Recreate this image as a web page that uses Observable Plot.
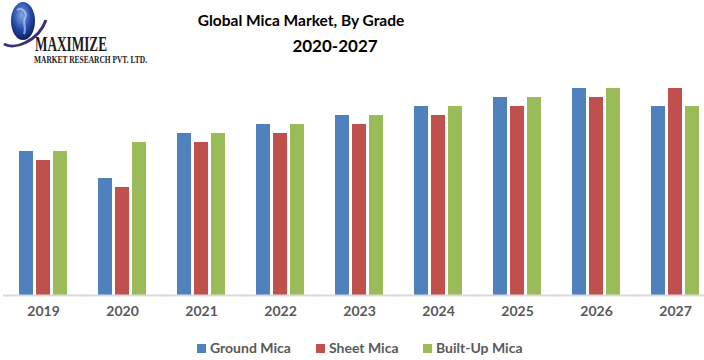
<!DOCTYPE html>
<html><head><meta charset="utf-8">
<script src="https://cdn.jsdelivr.net/npm/d3@7"></script>
<script src="https://cdn.jsdelivr.net/npm/@observablehq/plot@0.6"></script>
<style>
body{margin:0;background:#fff;}
#wrap{position:relative;width:704px;height:360px;overflow:hidden;font-family:Lato,"Open Sans",sans-serif;}
#chart{position:absolute;left:0;top:0;}
.t{position:absolute;width:300px;text-align:center;font-weight:bold;color:#000;line-height:20px;white-space:nowrap;}
#legend{position:absolute;top:339px;left:0;width:704px;height:18px;font-size:14px;font-weight:bold;color:#595959;}
#legend span.item{position:absolute;top:0;white-space:nowrap;line-height:18px;}
#legend i{display:inline-block;width:9px;height:9px;margin-right:4px;vertical-align:0px;}
#logo{position:absolute;left:0;top:0;width:170px;height:72px;}
</style></head><body><div id="wrap">
<svg id="logo" width="170" height="72" viewBox="0 0 170 72">
 <defs><radialGradient id="g" cx="0.45" cy="0.35" r="0.7"><stop offset="0" stop-color="#7fa8e6"/><stop offset="0.55" stop-color="#2448a8"/><stop offset="1" stop-color="#0d1850"/></radialGradient></defs>
 <path d="M4,44 C14,50 38,42 46,20" fill="none" stroke="#3a2f7a" stroke-width="3"/>
 <ellipse cx="23" cy="21" rx="12" ry="19" fill="url(#g)"/>
 <path d="M17,10 C22,7 28,13 25,18 C22,23 27,28 24,34" fill="none" stroke="#b8cff2" stroke-width="2" opacity="0.7"/>
 <text x="35" y="51" font-family="Liberation Serif" font-weight="bold" font-size="21" textLength="72" lengthAdjust="spacingAndGlyphs" fill="#1a1a1a">MAXIMIZE</text>
 <text x="34" y="63" font-family="Liberation Serif" font-weight="bold" font-size="10.5" textLength="113" lengthAdjust="spacingAndGlyphs" fill="#1a1a1a">MARKET RESEARCH PVT. LTD.</text>
</svg>
<div class="t" style="left:151px;top:10px;font-size:15.5px;">Global Mica Market, By Grade</div>
<div class="t" style="left:185px;top:36px;font-size:17px;">2020-2027</div>
<div id="chart"></div>
<div id="legend"></div>
</div>
<script>
const years = ["2019","2020","2021","2022","2023","2024","2025","2026","2027"];
const groundMica = [16,13,18,19,20,21,22,23,21];
const sheetMica = [15,12,17,18,19,20,21,22,23];
const builtUpMica = [16,17,18,19,20,21,22,23,21];
const seriesNames = ["Ground Mica","Sheet Mica","Built-Up Mica"];
const seriesColors = ["#4F81BD","#C0504D","#9BBB59"];
const seriesValues = [groundMica, sheetMica, builtUpMica];

const data = years.flatMap((yr, i) => seriesNames.map((s, j) => ({year: yr, series: s, value: seriesValues[j][i]})));

const chart = Plot.plot({
  width: 704, height: 360,
  marginTop: 79, marginBottom: 65, marginLeft: 14, marginRight: 1,
  style: {fontFamily: "Lato, 'Open Sans', sans-serif", background: "transparent"},
  fx: {domain: years, paddingInner: 0.292, paddingOuter: 0, label: null},
  x: {domain: seriesNames, padding: 0.2, axis: null},
  y: {domain: [0, 24], axis: null},
  color: {domain: seriesNames, range: seriesColors},
  marks: [
    Plot.barY(data, {fx: "year", x: "series", y: "value", fill: "series"}),
    Plot.ruleY([0], {stroke: "#d9d9d9", strokeWidth: 2, insetLeft: -12, insetRight: -12}),
    Plot.axisFx({anchor: "bottom", tickSize: 0, tickPadding: 11, fontSize: 14, fontWeight: "bold", fill: "#595959", label: null})
  ]
});
document.getElementById("chart").appendChild(chart);

const legendX = [197, 316, 423];
const legend = document.getElementById("legend");
seriesNames.forEach((s, j) => {
  const item = document.createElement("span");
  item.className = "item";
  item.style.left = legendX[j] + "px";
  item.innerHTML = `<i style="background:${seriesColors[j]}"></i>${s}`;
  legend.appendChild(item);
});
</script>
</body></html>
